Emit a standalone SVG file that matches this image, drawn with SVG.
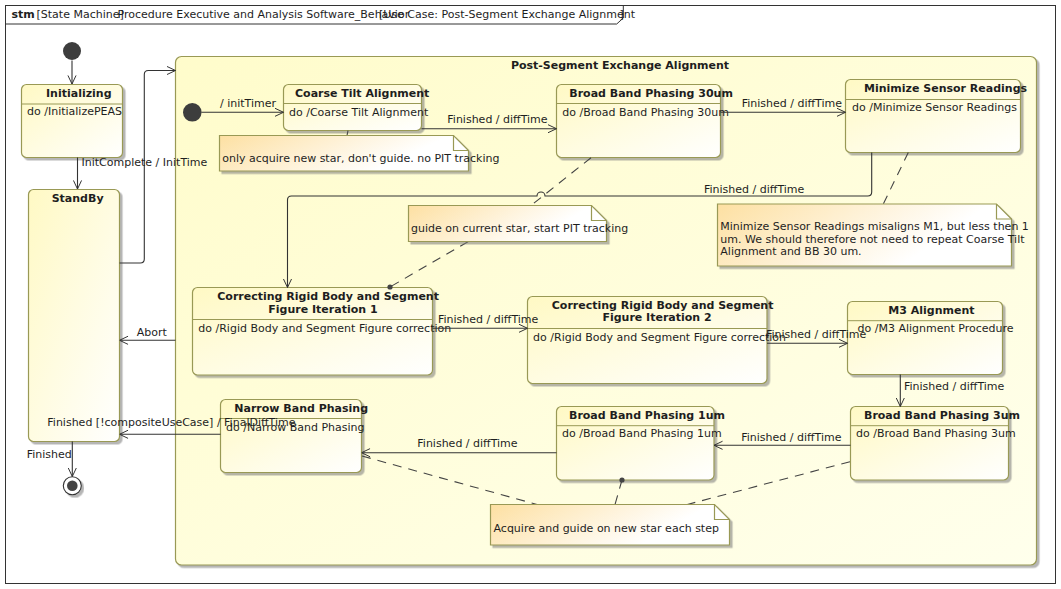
<svg xmlns="http://www.w3.org/2000/svg" width="1061" height="589" viewBox="0 0 1061 589">
<defs>
<linearGradient id="gState" x1="0" y1="0" x2="1" y2="1">
<stop offset="0" stop-color="#FFF9C4"/>
<stop offset="1" stop-color="#FFFFFF"/>
</linearGradient>
<linearGradient id="gComp" x1="0" y1="0" x2="1" y2="1">
<stop offset="0" stop-color="#FFFCCB"/>
<stop offset="1" stop-color="#FFFFEC"/>
</linearGradient>
<linearGradient id="gNote" x1="0" y1="0" x2="1" y2="0.3">
<stop offset="0" stop-color="#FDE0A2"/>
<stop offset="0.85" stop-color="#FFFFFF"/>
</linearGradient>
<filter id="sh" x="-5%" y="-5%" width="115%" height="120%">
<feDropShadow dx="2.5" dy="2.5" stdDeviation="0.7" flood-color="#7a7a7a" flood-opacity="0.55"/>
</filter>
<marker id="arr" viewBox="0 0 10 10" refX="10" refY="5" markerWidth="9" markerHeight="10" orient="auto" markerUnits="userSpaceOnUse">
<path d="M0.5,0.5 L10,5 L0.5,9.5" fill="none" stroke="#333" stroke-width="1.1"/>
</marker>
</defs>
<style>
text{font-family:"DejaVu Sans","Liberation Sans",sans-serif;font-size:11px;fill:#1e1e1e}
.b{font-weight:bold}
.st{fill:url(#gState);stroke:#999955;stroke-width:1.2;filter:url(#sh)}
.comp{fill:url(#gComp);stroke:#999955;stroke-width:1.2;filter:url(#sh)}
.note{fill:url(#gNote);stroke:#999955;stroke-width:1.2;filter:url(#sh)}
.fold{fill:none;stroke:#999955;stroke-width:1.2}
.sep{stroke:#999955;stroke-width:1}
.c{fill:none;stroke:#333;stroke-width:1.1}
.a{marker-end:url(#arr)}
.d{fill:none;stroke:#444;stroke-width:1.1;stroke-dasharray:9,7}
</style>

<g id="frame">
<rect x="5.5" y="5.5" width="1050" height="578" fill="#fff" stroke="#333" stroke-width="1"/>
<path d="M5.5,24 H616.7 L623.3,18 V5.5" fill="none" stroke="#333" stroke-width="1"/>
<text x="11.5" y="18" class="b">stm</text>
<text x="36.5" y="18">[State Machine]</text>
<text x="117.5" y="18">Procedure Executive and Analysis Software_Behavior</text>
<text x="379" y="18">[Use Case: Post-Segment Exchange Alignment</text>
<text x="619.5" y="18">]</text>
</g>

<g id="composite">
<rect class="comp" x="175.5" y="56.5" width="861" height="508.5" rx="6"/>
<text x="620" y="68.5" class="b" text-anchor="middle">Post-Segment Exchange Alignment</text>
</g>

<g id="init-top"><circle cx="72" cy="51" r="9" fill="#3d3d3d"/></g>
<g id="init-inner"><circle cx="192.3" cy="112.3" r="9.3" fill="#3d3d3d"/></g>

<g id="initializing">
<rect class="st" x="21.5" y="84.5" width="101" height="73" rx="5"/>
<line class="sep" x1="21.5" y1="104" x2="122.5" y2="104"/>
<text x="46" y="97" class="b">Initializing</text>
<text x="27" y="115">do /InitializePEAS</text>
</g>

<g id="standby">
<rect class="st" x="28.5" y="189.5" width="91" height="252" rx="5"/>
<text x="51.7" y="202" class="b">StandBy</text>
</g>

<g id="coarse-tilt">
<rect class="st" x="283.5" y="84.5" width="138" height="46" rx="5"/>
<line class="sep" x1="283.5" y1="103.5" x2="421.5" y2="103.5"/>
<text x="295" y="97" class="b">Coarse Tilt Alignment</text>
<text x="289" y="116">do /Coarse Tilt Alignment</text>
</g>

<g id="bb30">
<rect class="st" x="556.5" y="84.5" width="164" height="73" rx="5"/>
<line class="sep" x1="556.5" y1="103.5" x2="720.5" y2="103.5"/>
<text x="569.3" y="97" class="b">Broad Band Phasing 30um</text>
<text x="562.3" y="116">do /Broad Band Phasing 30um</text>
</g>

<g id="msr">
<rect class="st" x="845.5" y="79.5" width="175" height="73" rx="5"/>
<line class="sep" x1="845.5" y1="99.5" x2="1020.5" y2="99.5"/>
<text x="864" y="92" class="b">Minimize Sensor Readings</text>
<text x="852" y="110.5">do /Minimize Sensor Readings</text>
</g>

<g id="crb1">
<rect class="st" x="192.5" y="287.5" width="240" height="87.5" rx="5"/>
<line class="sep" x1="192.5" y1="319.5" x2="432.5" y2="319.5"/>
<text x="217.3" y="299.5" class="b">Correcting Rigid Body and Segment</text>
<text x="268.3" y="312.5" class="b">Figure Iteration 1</text>
<text x="198.3" y="331.7">do /Rigid Body and Segment Figure correction</text>
</g>

<g id="crb2">
<rect class="st" x="527.5" y="296.5" width="239.5" height="87" rx="5"/>
<line class="sep" x1="527.5" y1="328.5" x2="767" y2="328.5"/>
<text x="551.8" y="308.5" class="b">Correcting Rigid Body and Segment</text>
<text x="602.4" y="321" class="b">Figure Iteration 2</text>
<text x="533.1" y="341">do /Rigid Body and Segment Figure correction</text>
</g>

<g id="m3">
<rect class="st" x="847.5" y="301.5" width="155" height="73" rx="5"/>
<line class="sep" x1="847.5" y1="320.7" x2="1002.5" y2="320.7"/>
<text x="888.3" y="313.5" class="b">M3 Alignment</text>
<text x="857.5" y="332">do /M3 Alignment Procedure</text>
</g>

<g id="bb3">
<rect class="st" x="850.5" y="406.5" width="158" height="73.5" rx="5"/>
<line class="sep" x1="850.5" y1="425.7" x2="1008.5" y2="425.7"/>
<text x="864" y="418.7" class="b">Broad Band Phasing 3um</text>
<text x="856" y="437.3">do /Broad Band Phasing 3um</text>
</g>

<g id="bb1">
<rect class="st" x="556.5" y="406.5" width="157.5" height="73.5" rx="5"/>
<line class="sep" x1="556.5" y1="425.7" x2="714" y2="425.7"/>
<text x="569" y="418.7" class="b">Broad Band Phasing 1um</text>
<text x="562" y="437.3">do /Broad Band Phasing 1um</text>
</g>

<g id="nbp">
<rect class="st" x="220.5" y="399.5" width="141" height="73" rx="5"/>
<line class="sep" x1="220.5" y1="418.5" x2="361.5" y2="418.5"/>
<text x="234.3" y="412" class="b">Narrow Band Phasing</text>
<text x="226" y="431">do /Narrow Band Phasing</text>
</g>

<g id="final">
<circle cx="72.3" cy="485.7" r="9" fill="#fff" stroke="#333" stroke-width="1.1" filter="url(#sh)"/>
<circle cx="72.3" cy="485.7" r="5.3" fill="#444"/>
</g>

<g id="connectors">
<line class="d" x1="348" y1="130.7" x2="347" y2="135.5"/>
<line class="d" x1="591" y1="157.7" x2="531" y2="205.5"/>
<line class="d" x1="468" y1="241.7" x2="390" y2="287"/>
<circle cx="390" cy="287" r="2.6" fill="#444"/>
<line class="d" x1="908.3" y1="152.5" x2="883.3" y2="204"/>
<line class="d" x1="362" y1="456" x2="537" y2="504.5"/>
<line class="d" x1="622" y1="480" x2="615" y2="504.5"/>
<circle cx="622" cy="480" r="2.6" fill="#444"/>
<line class="d" x1="850" y1="461.7" x2="687.3" y2="504.5"/>

<line class="c a" x1="72" y1="60.5" x2="72" y2="84"/>
<line class="c a" x1="77.5" y1="157.5" x2="77.5" y2="189"/>
<path class="c a" d="M119.5,263 H140.3 Q144.3,263 144.3,259 V74.5 Q144.3,70.5 148.3,70.5 H175.5"/>
<line class="c a" x1="201.5" y1="112.3" x2="283.5" y2="112.3"/>
<line class="c a" x1="421.5" y1="128.7" x2="556.5" y2="128.7"/>
<line class="c a" x1="720.5" y1="112.3" x2="845.5" y2="112.3"/>
<path class="c a" d="M871.7,152.5 V192 Q871.7,196 867.7,196 H545 A4,4 0 0 0 537,196 H291.5 Q287.5,196 287.5,200 V287.5"/>
<line class="c a" x1="175.5" y1="340.3" x2="119.5" y2="340.3"/>
<line class="c a" x1="432.5" y1="328.3" x2="527.5" y2="328.3"/>
<line class="c a" x1="767" y1="343.3" x2="847.5" y2="343.3"/>
<line class="c a" x1="900.3" y1="374.5" x2="900.3" y2="406.5"/>
<line class="c a" x1="850.5" y1="445.3" x2="714" y2="445.3"/>
<line class="c a" x1="556.5" y1="452.7" x2="361.5" y2="452.7"/>
<line class="c a" x1="220.5" y1="434.3" x2="119.5" y2="434.3"/>
<line class="c a" x1="72.3" y1="441.5" x2="72.3" y2="476.5"/>

<text x="81.5" y="166">InitComplete / InitTime</text>
<text x="220" y="107">/ initTimer</text>
<text x="447.3" y="123.3">Finished / diffTime</text>
<text x="741.7" y="107.3">Finished / diffTime</text>
<text x="704" y="193.3">Finished / diffTime</text>
<text x="136.7" y="335.7">Abort</text>
<text x="438" y="323.3">Finished / diffTime</text>
<text x="766" y="338.3">Finished / diffTime</text>
<text x="904" y="390">Finished / diffTime</text>
<text x="741.2" y="440.7">Finished / diffTime</text>
<text x="417.3" y="447.3">Finished / diffTime</text>
<text x="47.3" y="425.7">Finished [!compositeUseCase] / FinalDiffTime</text>
<text x="26.7" y="458.3">Finished</text>
</g>

<g id="note-coarse">
<path class="note" d="M219.5,135.5 H453.5 L468.5,150.5 V171 H219.5 Z"/>
<path class="fold" d="M453.5,135.5 V150.5 H468.5"/>
<text x="222.3" y="161.7">only acquire new star, don't guide. no PIT tracking</text>
</g>

<g id="note-guide">
<path class="note" d="M408.5,205.5 H591.5 L606.5,220.5 V241.5 H408.5 Z"/>
<path class="fold" d="M591.5,205.5 V220.5 H606.5"/>
<text x="411" y="232">guide on current star, start PIT tracking</text>
</g>

<g id="note-msr">
<path class="note" d="M717.5,204 H996.5 L1011.5,219 V266 H717.5 Z"/>
<path class="fold" d="M996.5,204 V219 H1011.5"/>
<text x="720.3" y="230">Minimize Sensor Readings misaligns M1, but less then 1</text>
<text x="720.3" y="242.7">um. We should therefore not need to repeat Coarse Tilt</text>
<text x="720.3" y="255.3">Alignment and BB 30 um.</text>
</g>

<g id="note-acquire">
<path class="note" d="M490.5,504.5 H714.5 L729.5,519.5 V545 H490.5 Z"/>
<path class="fold" d="M714.5,504.5 V519.5 H729.5"/>
<text x="493.5" y="531.7">Acquire and guide on new star each step</text>
</g>
</svg>
